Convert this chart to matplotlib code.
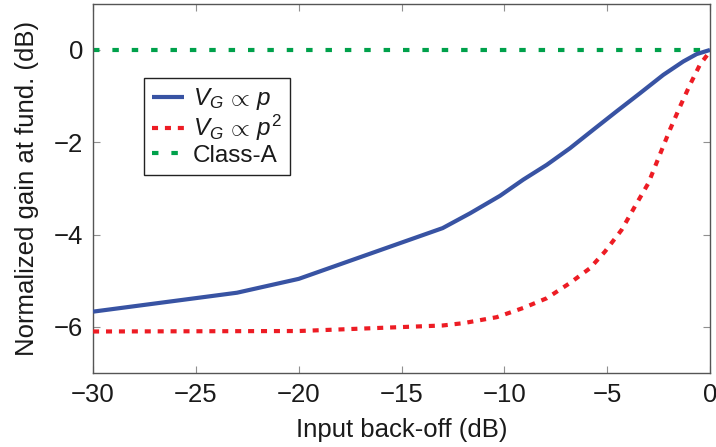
import numpy as np
import matplotlib
matplotlib.use("Agg")
import matplotlib.pyplot as plt

plt.rcParams["font.family"] = ["Liberation Sans", "DejaVu Sans"]
plt.rcParams["mathtext.fontset"] = "custom"
plt.rcParams["mathtext.rm"] = "Liberation Sans"
plt.rcParams["mathtext.it"] = "Liberation Sans:italic"
plt.rcParams["mathtext.sf"] = "Liberation Sans"

# Gain curves vs. input back-off
ibo_p = [-30, -23, -20, -13, -11.67, -10.21, -9.08, -7.94, -6.81, -5.68, -4.54,
         -3.41, -2.27, -1.30, -0.65, 0]
gain_p = [-5.67, -5.26, -4.96, -3.86, -3.54, -3.16, -2.81, -2.49, -2.13, -1.73, -1.33,
          -0.94, -0.54, -0.25, -0.09, 0]

ibo_p2 = [-30, -20, -13, -12, -10.37, -9.08, -7.94, -6.81, -5.84, -5.11, -4.30, -3.65,
          -3.0, -2.44, -1.95, -1.46, -0.98, -0.49, 0]
gain_p2 = [-6.10, -6.09, -5.97, -5.92, -5.79, -5.59, -5.38, -5.05, -4.73, -4.37, -3.90, -3.39,
           -2.89, -2.27, -1.73, -1.23, -0.76, -0.32, -0.03]

ibo_a = [-30, 0]
gain_a = [0, 0]

xticks = [-30, -25, -20, -15, -10, -5, 0]
yticks = [-6, -4, -2, 0]

fig = plt.figure(figsize=(7.16, 4.47), dpi=100)
ax = fig.add_axes([0.130, 0.1655, 0.8616, 0.826])

lw = 3.0
ax.plot(ibo_p, gain_p, color="#3853a3", lw=lw, solid_capstyle="butt",
        solid_joinstyle="round", label=r"$V_G\,\propto\,p$", zorder=3)
ax.plot(ibo_p2, gain_p2, color="#ed1c24", lw=lw, linestyle=(0, (1.45, 1.65)),
        label=r"$V_G\,\propto\,p^2$", zorder=3)
ax.plot(ibo_a, gain_a, color="#00a14b", lw=lw, linestyle=(0, (1.55, 3.1)),
        label="Class-A", zorder=2)

ax.set_xlim(-30, 0)
ax.set_ylim(-7, 1)
ax.set_xticks(xticks)
ax.set_yticks(yticks)
ax.set_xticklabels([f"\u2212{abs(t)}" if t < 0 else str(t) for t in xticks])
ax.set_yticklabels([f"\u2212{abs(t)}" if t < 0 else str(t) for t in yticks])

ax.tick_params(direction="in", length=5, width=0.8, color="#909090",
               top=True, right=True, labelsize=18.5, pad=7, labelcolor="#1a1a1a")
for s in ax.spines.values():
    s.set_color("#555555")
    s.set_linewidth(1.0)

ax.set_xlabel("Input back-off (dB)", fontsize=18.5, color="#1a1a1a", labelpad=8)
ax.set_ylabel("Normalized gain at fund. (dB)", fontsize=18.5, color="#1a1a1a", labelpad=11)

leg = ax.legend(loc="upper left", bbox_to_anchor=(0.082, 0.799), borderaxespad=0,
                fontsize=17.5, fancybox=False, framealpha=1, edgecolor="#222222",
                handlelength=1.35, handletextpad=0.35, borderpad=0.33, labelspacing=0.05)
leg.get_frame().set_linewidth(1.0)
for t in leg.get_texts():
    t.set_color("#1a1a1a")

fig.savefig("out.png", dpi=100)
